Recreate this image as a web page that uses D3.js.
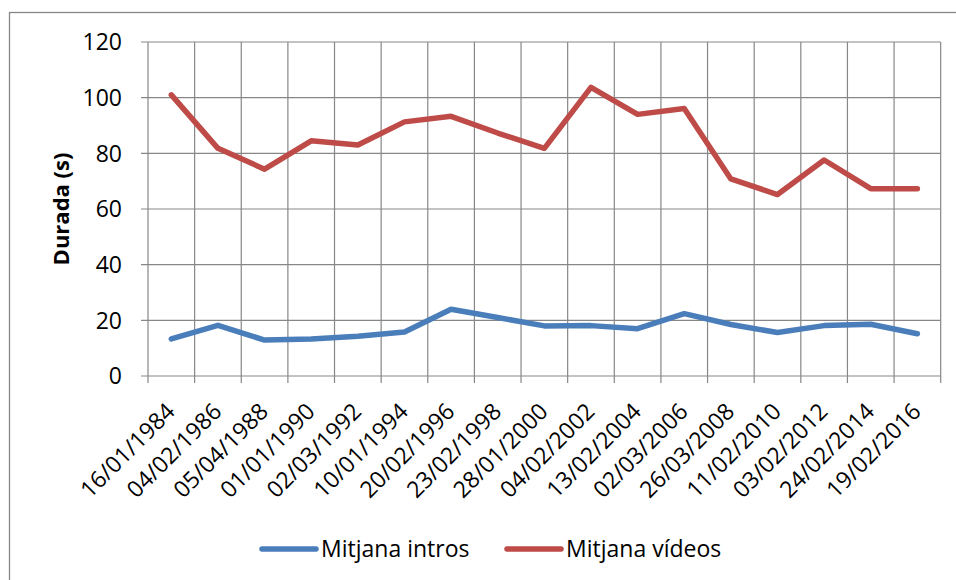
<!DOCTYPE html>
<html>
<head>
<meta charset="utf-8">
<script src="https://cdn.jsdelivr.net/npm/d3@7"></script>
<style>
  body { margin: 0; background: #fff; }
  text { font-family: 'Open Sans', sans-serif; fill: #000; }
</style>
</head>
<body>
<script>
const dates = ['16/01/1984', '04/02/1986', '05/04/1988', '01/01/1990', '02/03/1992', '10/01/1994',
  '20/02/1996', '23/02/1998', '28/01/2000', '04/02/2002', '13/02/2004', '02/03/2006',
  '26/03/2008', '11/02/2010', '03/02/2012', '24/02/2014', '19/02/2016']
const intros = [13.3, 18.2, 12.9, 13.3, 14.3, 15.8, 24.0, 21.0, 18.0, 18.1, 17.0, 22.4, 18.5, 15.6, 18.1, 18.6, 15.2]
const videos = [101.0, 81.8, 74.3, 84.5, 83.0, 91.3, 93.3, 87.3, 81.8, 103.7, 94.0, 96.1, 70.8, 65.2, 77.6, 67.3, 67.3]
const yTicks = [0, 20, 40, 60, 80, 100, 120]
const seriesNames = ['Mitjana intros', 'Mitjana vídeos']

const colors = {
  intros: '#4A7EBB',
  videos: '#BE4B48',
  grid: '#878787'
}

const width = 956
const height = 580
const plot = { left: 148, right: 940.7, top: 42, bottom: 376 }

const svg = d3.select('body').append('svg')
  .attr('width', width)
  .attr('height', height)

// outer chart border (right/bottom fall outside the crop)
svg.append('rect')
  .attr('x', 9.5).attr('y', 12.5)
  .attr('width', 1000).attr('height', 1000)
  .attr('fill', 'none')
  .attr('stroke', colors.grid)
  .attr('stroke-width', 1.3)

const x = d3.scaleBand()
  .domain(dates)
  .range([plot.left, plot.right])
  .padding(0)

const y = d3.scaleLinear()
  .domain([0, 120])
  .range([plot.bottom, plot.top])

// horizontal grid
svg.append('g')
  .selectAll('line')
  .data(yTicks)
  .enter()
  .append('line')
  .attr('x1', plot.left - 7)
  .attr('x2', plot.right)
  .attr('y1', d => y(d))
  .attr('y2', d => y(d))
  .attr('stroke', colors.grid)
  .attr('stroke-width', 1.2)

// vertical grid at category boundaries
const bounds = dates.map(d => x(d)).concat([x.range()[1]])
svg.append('g')
  .selectAll('line')
  .data(bounds)
  .enter()
  .append('line')
  .attr('x1', d => d)
  .attr('x2', d => d)
  .attr('y1', plot.top)
  .attr('y2', plot.bottom + 7)
  .attr('stroke', colors.grid)
  .attr('stroke-width', 1.2)

// y axis labels
svg.append('g')
  .selectAll('text')
  .data(yTicks)
  .enter()
  .append('text')
  .attr('x', 122)
  .attr('y', d => y(d))
  .attr('dy', '0.36em')
  .attr('text-anchor', 'end')
  .style('font-size', '23px')
  .text(d => d)

// y axis title
svg.append('text')
  .attr('transform', `translate(69, ${(plot.top + plot.bottom) / 2}) rotate(-90)`)
  .attr('text-anchor', 'middle')
  .style('font-size', '22px')
  .style('font-weight', 'bold')
  .text('Durada (s)')

// x labels, rotated
svg.append('g')
  .selectAll('text')
  .data(dates)
  .enter()
  .append('text')
  .attr('transform', d => `translate(${x(d) + x.bandwidth() / 2 + 5}, 413) rotate(-45)`)
  .attr('text-anchor', 'end')
  .style('font-size', '23px')
  .text(d => d)

const line = d3.line()
  .x((d, i) => x(dates[i]) + x.bandwidth() / 2)
  .y(d => y(d))

svg.append('path')
  .attr('d', line(intros))
  .attr('fill', 'none')
  .attr('stroke', colors.intros)
  .attr('stroke-width', 5.5)
  .attr('stroke-linejoin', 'round')
  .attr('stroke-linecap', 'round')

svg.append('path')
  .attr('d', line(videos))
  .attr('fill', 'none')
  .attr('stroke', colors.videos)
  .attr('stroke-width', 5.5)
  .attr('stroke-linejoin', 'round')
  .attr('stroke-linecap', 'round')

// legend
const legend = [
  { name: seriesNames[0], color: colors.intros, x: 262 },
  { name: seriesNames[1], color: colors.videos, x: 507 }
]
const lg = svg.append('g')
  .selectAll('g')
  .data(legend)
  .enter()
  .append('g')
  .attr('transform', d => `translate(${d.x}, 549)`)

lg.append('line')
  .attr('x1', 0).attr('x2', 54)
  .attr('y1', 0).attr('y2', 0)
  .attr('stroke', d => d.color)
  .attr('stroke-width', 5.5)
  .attr('stroke-linecap', 'round')

lg.append('text')
  .attr('x', 59)
  .attr('y', 0)
  .attr('dy', '0.34em')
  .style('font-size', '23px')
  .text(d => d.name)
</script>
</body>
</html>
